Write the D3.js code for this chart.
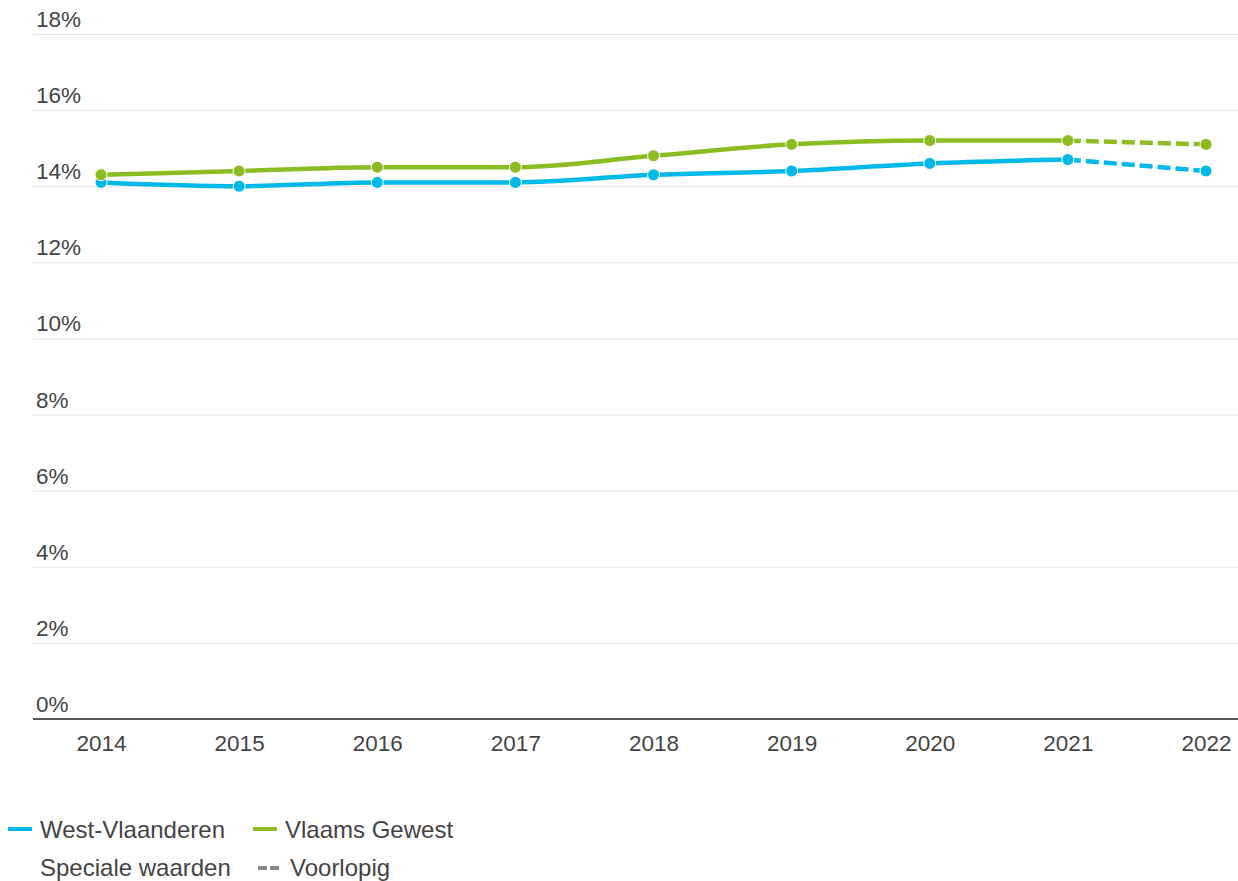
<!DOCTYPE html>
<html>
<head>
<meta charset="utf-8">
<script src="https://cdn.jsdelivr.net/npm/d3@7"></script>
<style>
  body { margin: 0; background: #fff; }
  svg { display: block; font-family: "Liberation Sans", Arial, sans-serif; }
</style>
</head>
<body>
<div id="chart"></div>
<script>
var width = 1238,
    height = 881;

// data
var years = [2014, 2015, 2016, 2017, 2018, 2019, 2020, 2021, 2022];
var westVlaanderen = [14.1, 14.0, 14.1, 14.1, 14.3, 14.4, 14.6, 14.7, 14.4];
var vlaamsGewest = [14.3, 14.4, 14.5, 14.5, 14.8, 15.1, 15.2, 15.2, 15.1];
var yTicks = [0, 2, 4, 6, 8, 10, 12, 14, 16, 18];
var provisionalFrom = 2021; // 2022 = voorlopig

var series = [
    {name: "West-Vlaanderen", color: "#00b9e8", values: westVlaanderen},
    {name: "Vlaams Gewest", color: "#8cbb22", values: vlaamsGewest}
];

var x = d3.scaleLinear().domain([2014, 2022]).range([101, 1206]);
var y = d3.scaleLinear().domain([0, 18]).range([719, 34]);

var svg = d3.select("#chart").append("svg")
    .attr("width", width)
    .attr("height", height);

// gridlines + y labels
var grid = svg.append("g");
grid.selectAll("line")
    .data(yTicks.filter(function (d) { return d > 0; }))
    .enter().append("line")
    .attr("x1", 33).attr("x2", width)
    .attr("y1", function (d) { return y(d) + 0.5; })
    .attr("y2", function (d) { return y(d) + 0.5; })
    .attr("stroke", "#e6e6e6")
    .attr("stroke-width", 1);

grid.selectAll("text")
    .data(yTicks)
    .enter().append("text")
    .attr("x", 36)
    .attr("y", function (d) { return y(d) - 7; })
    .attr("fill", "#444")
    .style("font-size", "22.5px")
    .text(function (d) { return d + "%"; });

// x axis
var xAxis = svg.append("g")
    .attr("transform", "translate(0," + y(0) + ")")
    .call(d3.axisBottom(x).tickValues(years).tickFormat(d3.format("d")).tickSize(0).tickPadding(16));
xAxis.select(".domain").remove();
xAxis.append("line")
    .attr("x1", 33).attr("x2", width)
    .attr("y1", 0).attr("y2", 0)
    .attr("stroke", "#555")
    .attr("stroke-width", 2);
xAxis.selectAll(".tick text")
    .attr("fill", "#444")
    .attr("dy", "0.71em")
    .style("font-size", "22.5px")
    .style("font-family", "'Liberation Sans', Arial, sans-serif");

var line = d3.line()
    .x(function (d) { return x(d.year); })
    .y(function (d) { return y(d.value); })
    .curve(d3.curveMonotoneX);

var lines = svg.append("g");

series.forEach(function (s) {
    var pts = years.map(function (yr, i) { return {year: yr, value: s.values[i]}; });
    var solid = pts.filter(function (d) { return d.year <= provisionalFrom; });
    var dashed = pts.filter(function (d) { return d.year >= provisionalFrom; });

    lines.append("path")
        .datum(solid)
        .attr("d", line)
        .attr("fill", "none")
        .attr("stroke", s.color)
        .attr("stroke-width", 4.5);

    lines.append("path")
        .datum(dashed)
        .attr("d", line)
        .attr("fill", "none")
        .attr("stroke", s.color)
        .attr("stroke-width", 4.5)
        .attr("stroke-dasharray", "13,5");

    lines.selectAll(null)
        .data(pts)
        .enter().append("circle")
        .attr("cx", function (d) { return x(d.year); })
        .attr("cy", function (d) { return y(d.value); })
        .attr("r", 6)
        .attr("fill", s.color)
        .attr("stroke", "#fff")
        .attr("stroke-width", 1);
});

// legend
var legend = svg.append("g").style("font-size", "24px").attr("fill", "#444");
var legX = [8, 253];
series.forEach(function (s, i) {
    legend.append("line")
        .attr("x1", legX[i]).attr("x2", legX[i] + 24)
        .attr("y1", 829).attr("y2", 829)
        .attr("stroke", s.color)
        .attr("stroke-width", 4);
    legend.append("text")
        .attr("x", legX[i] + 32)
        .attr("y", 838)
        .text(s.name);
});
legend.append("text").attr("x", 40).attr("y", 876).text("Speciale waarden");
legend.append("line")
    .attr("x1", 258).attr("x2", 279)
    .attr("y1", 868).attr("y2", 868)
    .attr("stroke", "#888")
    .attr("stroke-width", 4)
    .attr("stroke-dasharray", "9,3");
legend.append("text").attr("x", 290).attr("y", 876).text("Voorlopig");
</script>
</body>
</html>
